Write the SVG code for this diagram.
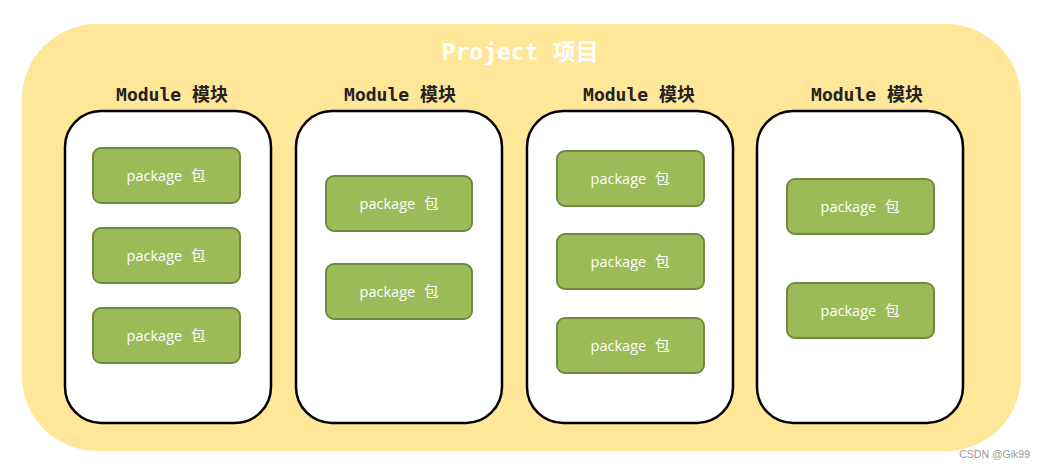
<svg xmlns="http://www.w3.org/2000/svg" width="1046" height="468" viewBox="0 0 1046 468">
<style>
.mod{fill:#fff;stroke:#000;stroke-width:2.5}
.pkg{fill:#9BBB59;stroke:#71893F;stroke-width:2}
.pt{fill:#fff;font-family:"Open Sans","Noto Sans","Noto Sans CJK SC",sans-serif;font-size:14.5px;text-anchor:middle}
.mt{fill:#222;font-family:"DejaVu Sans Mono","Liberation Mono","Noto Sans CJK SC",monospace;font-weight:bold;font-size:18px;text-anchor:middle}
</style>
<rect id="project" x="22" y="24" width="999" height="427" rx="75" fill="#FFE699"/>
<text x="520" y="60" fill="#fff" font-family="'DejaVu Sans Mono','Liberation Mono','Noto Sans CJK SC',monospace" font-weight="bold" font-size="23" text-anchor="middle">Project 项目</text>
<g id="module1">
<text class="mt" x="172" y="101">Module 模块</text>
<rect class="mod" x="65" y="111" width="206" height="312" rx="36"/>
<g id="m1p1"><rect class="pkg" x="93" y="148" width="147" height="55" rx="8"/><text class="pt" x="166" y="181">package <tspan dx="5">包</tspan></text></g>
<g id="m1p2"><rect class="pkg" x="93" y="228" width="147" height="55" rx="8"/><text class="pt" x="166" y="261">package <tspan dx="5">包</tspan></text></g>
<g id="m1p3"><rect class="pkg" x="93" y="308" width="147" height="55" rx="8"/><text class="pt" x="166" y="341">package <tspan dx="5">包</tspan></text></g>
</g>
<g id="module2">
<text class="mt" x="400" y="101">Module 模块</text>
<rect class="mod" x="296" y="111" width="206" height="312" rx="36"/>
<g id="m2p1"><rect class="pkg" x="326" y="176" width="146" height="55" rx="8"/><text class="pt" x="399" y="209">package <tspan dx="5">包</tspan></text></g>
<g id="m2p2"><rect class="pkg" x="326" y="264" width="146" height="55" rx="8"/><text class="pt" x="399" y="297">package <tspan dx="5">包</tspan></text></g>
</g>
<g id="module3">
<text class="mt" x="639" y="101">Module 模块</text>
<rect class="mod" x="527" y="111" width="206" height="312" rx="36"/>
<g id="m3p1"><rect class="pkg" x="557" y="151" width="147" height="55" rx="8"/><text class="pt" x="630" y="184">package <tspan dx="5">包</tspan></text></g>
<g id="m3p2"><rect class="pkg" x="557" y="234" width="147" height="55" rx="8"/><text class="pt" x="630" y="267">package <tspan dx="5">包</tspan></text></g>
<g id="m3p3"><rect class="pkg" x="557" y="318" width="147" height="55" rx="8"/><text class="pt" x="630" y="351">package <tspan dx="5">包</tspan></text></g>
</g>
<g id="module4">
<text class="mt" x="867" y="101">Module 模块</text>
<rect class="mod" x="757" y="111" width="206" height="312" rx="36"/>
<g id="m4p1"><rect class="pkg" x="787" y="179" width="147" height="55" rx="8"/><text class="pt" x="860" y="212">package <tspan dx="5">包</tspan></text></g>
<g id="m4p2"><rect class="pkg" x="787" y="283" width="147" height="55" rx="8"/><text class="pt" x="860" y="316">package <tspan dx="5">包</tspan></text></g>
</g>
<g id="connectors"/>
<text x="1030" y="458" fill="#999" font-family="'Liberation Sans',sans-serif" font-size="10.5" text-anchor="end">CSDN @Gik99</text>
</svg>
